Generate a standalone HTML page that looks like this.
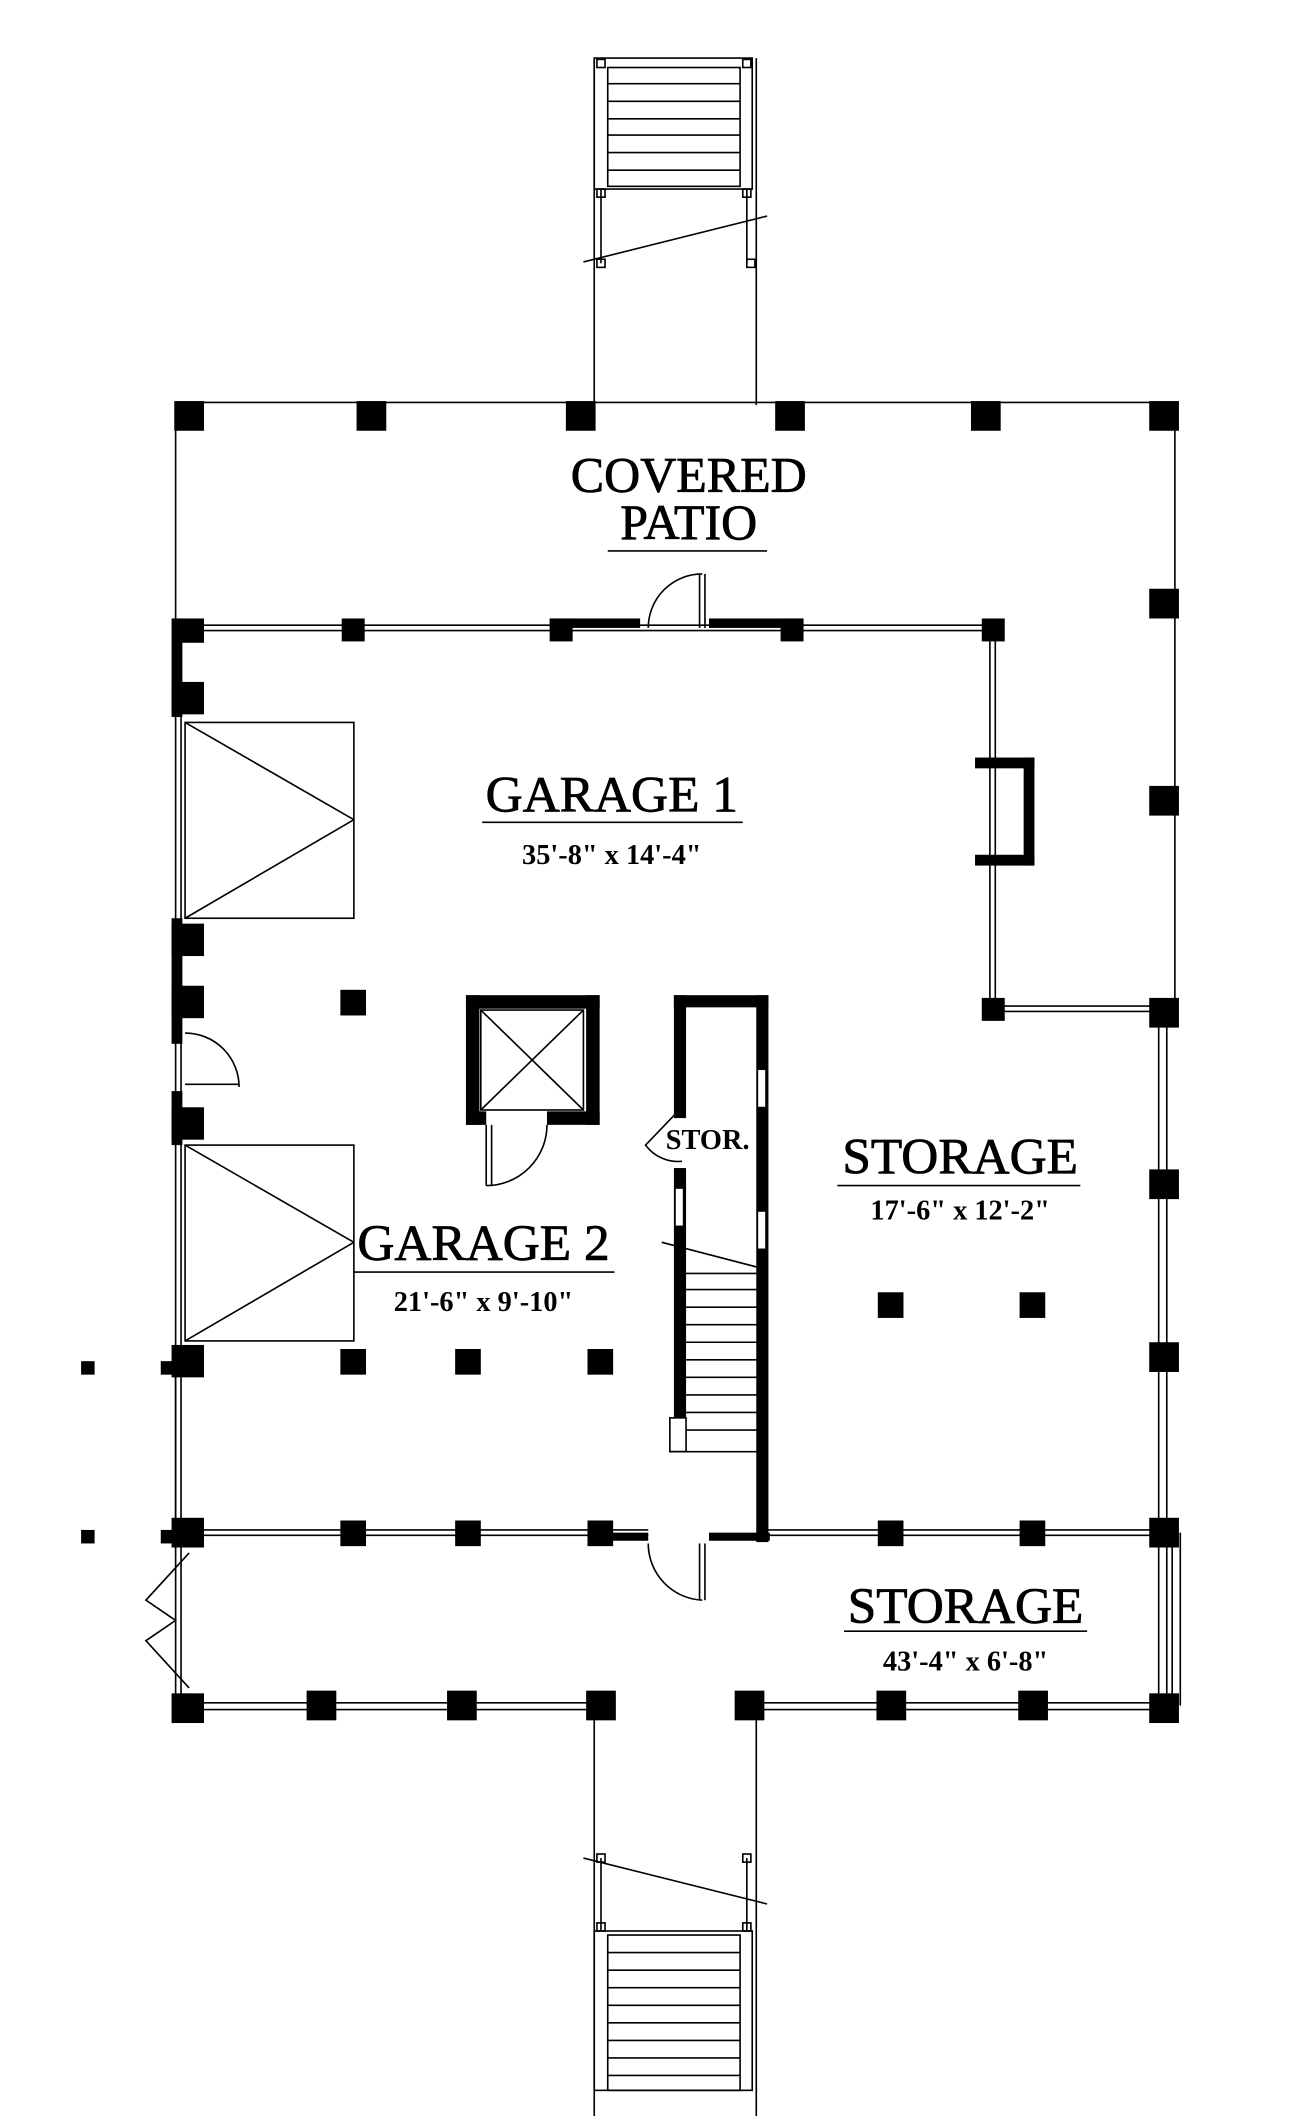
<!DOCTYPE html>
<html><head><meta charset="utf-8"><style>
html,body{margin:0;padding:0;background:#fff}
svg{display:block}
text{font-family:"Liberation Serif",serif;fill:#000;text-anchor:middle}
</style></head><body>
<svg width="1310" height="2116" viewBox="0 0 970 1567" xmlns="http://www.w3.org/2000/svg">
<rect width="970" height="1567" fill="#fff"/>
<g stroke="#000" fill="none" stroke-width="1.2">
<line x1="440" y1="43" x2="440" y2="300"/><line x1="560" y1="43" x2="560" y2="300"/>
<rect x="440" y="43" width="117" height="97"/>
<rect x="450" y="50" width="98" height="88"/>
<line x1="450" y1="62" x2="548" y2="62"/><line x1="450" y1="75" x2="548" y2="75"/><line x1="450" y1="88" x2="548" y2="88"/><line x1="450" y1="100" x2="548" y2="100"/><line x1="450" y1="113" x2="548" y2="113"/><line x1="450" y1="126" x2="548" y2="126"/>
<line x1="445" y1="140" x2="445" y2="195"/><line x1="553" y1="140" x2="553" y2="195"/>
<line x1="432" y1="194" x2="568" y2="160"/>
<rect x="442" y="44" width="6" height="6"/><rect x="550" y="44" width="6" height="6"/><rect x="442" y="140" width="6" height="6"/><rect x="550" y="140" width="6" height="6"/><rect x="442" y="192" width="6" height="6"/><rect x="553" y="192" width="6" height="6"/>
<line x1="440" y1="1263" x2="440" y2="1567"/><line x1="560" y1="1263" x2="560" y2="1567"/>
<line x1="432" y1="1376" x2="568" y2="1410"/>
<line x1="445" y1="1376" x2="445" y2="1430"/><line x1="553" y1="1376" x2="553" y2="1430"/>
<rect x="442" y="1373" width="6" height="6"/><rect x="550" y="1373" width="6" height="6"/><rect x="442" y="1424" width="6" height="6"/><rect x="550" y="1424" width="6" height="6"/>
<rect x="440" y="1430" width="117" height="118"/>
<rect x="450" y="1433" width="98" height="115"/>
<line x1="450" y1="1446" x2="548" y2="1446"/><line x1="450" y1="1459" x2="548" y2="1459"/><line x1="450" y1="1472" x2="548" y2="1472"/><line x1="450" y1="1485" x2="548" y2="1485"/><line x1="450" y1="1498" x2="548" y2="1498"/><line x1="450" y1="1511" x2="548" y2="1511"/><line x1="450" y1="1524" x2="548" y2="1524"/><line x1="450" y1="1537" x2="548" y2="1537"/>
<line x1="130" y1="298" x2="872" y2="298"/><line x1="130" y1="298" x2="130" y2="465"/><line x1="870" y1="298" x2="870" y2="750"/>
<line x1="140" y1="463" x2="735" y2="463"/><line x1="140" y1="467" x2="735" y2="467"/>
<line x1="733" y1="467" x2="733" y2="747"/><line x1="737" y1="467" x2="737" y2="747"/>
<line x1="735" y1="745" x2="862" y2="745"/><line x1="735" y1="749" x2="862" y2="749"/>
<line x1="858" y1="750" x2="858" y2="1263"/><line x1="864" y1="750" x2="864" y2="1263"/>
<line x1="868" y1="1135" x2="868" y2="1263"/><line x1="874" y1="1135" x2="874" y2="1263"/>
<line x1="130" y1="530" x2="130" y2="1263"/><line x1="134" y1="530" x2="134" y2="1263"/>
<rect x="137" y="535" width="125" height="145"/><line x1="137" y1="535" x2="262" y2="607"/><line x1="137" y1="680" x2="262" y2="607"/>
<rect x="137" y="848" width="125" height="145"/><line x1="137" y1="848" x2="262" y2="920"/><line x1="137" y1="993" x2="262" y2="920"/>
<line x1="140" y1="1133" x2="480" y2="1133"/><line x1="140" y1="1137" x2="480" y2="1137"/>
<line x1="565" y1="1133" x2="862" y2="1133"/><line x1="565" y1="1137" x2="862" y2="1137"/>
<line x1="140" y1="1261" x2="445" y2="1261"/><line x1="140" y1="1266" x2="445" y2="1266"/>
<line x1="555" y1="1261" x2="862" y2="1261"/><line x1="555" y1="1266" x2="862" y2="1266"/>
<path d="M520 425 A40 40 0 0 0 480 465"/><line x1="518" y1="425" x2="518" y2="465"/><line x1="522" y1="425" x2="522" y2="465"/>
<path d="M137 765 A40 40 0 0 1 177 805"/><line x1="137" y1="803" x2="177" y2="803"/>
<path d="M405 833 A45 45 0 0 1 360 878"/><line x1="360" y1="833" x2="360" y2="878"/><line x1="364" y1="833" x2="364" y2="878"/>
<path d="M520 1185 A42 42 0 0 1 480 1143"/><line x1="518" y1="1143" x2="518" y2="1185"/><line x1="522" y1="1143" x2="522" y2="1185"/>
<path d="M505 860 A30 30 0 0 1 478 848 L503 822"/>
<polyline points="140,1150 108,1185 130,1200 108,1215 140,1250"/>
<line x1="130" y1="1012" x2="130" y2="1135"/>
<line x1="490" y1="920" x2="567" y2="940"/>
<line x1="508" y1="943" x2="562" y2="943"/>
<line x1="508" y1="955" x2="562" y2="955"/><line x1="508" y1="968" x2="562" y2="968"/><line x1="508" y1="981" x2="562" y2="981"/><line x1="508" y1="994" x2="562" y2="994"/><line x1="508" y1="1007" x2="562" y2="1007"/><line x1="508" y1="1020" x2="562" y2="1020"/><line x1="508" y1="1033" x2="562" y2="1033"/><line x1="508" y1="1046" x2="562" y2="1046"/><line x1="508" y1="1059" x2="562" y2="1059"/>
<rect x="496" y="1050" width="12" height="25"/>
<line x1="496" y1="1075" x2="562" y2="1075"/>
<rect x="356" y="748" width="76" height="74"/><line x1="356" y1="748" x2="432" y2="822"/><line x1="432" y1="748" x2="356" y2="822"/>
<line x1="450" y1="408" x2="568" y2="408"/>
<line x1="357" y1="609" x2="550" y2="609"/>
<line x1="262" y1="942" x2="455" y2="942"/>
<line x1="620" y1="878" x2="800" y2="878"/>
<line x1="625" y1="1208" x2="805" y2="1208"/>
</g>
<g fill="#000">
<rect x="129" y="297" width="22" height="22"/><rect x="264" y="297" width="22" height="22"/><rect x="419" y="297" width="22" height="22"/><rect x="574" y="297" width="22" height="22"/><rect x="719" y="297" width="22" height="22"/><rect x="851" y="297" width="22" height="22"/>
<rect x="851" y="436" width="22" height="22"/><rect x="851" y="582" width="22" height="22"/><rect x="851" y="739" width="22" height="22"/>
<rect x="851" y="866" width="22" height="22"/><rect x="851" y="994" width="22" height="22"/><rect x="851" y="1124" width="22" height="22"/><rect x="851" y="1254" width="22" height="22"/>
<rect x="129" y="458" width="22" height="18"/><rect x="253" y="458" width="17" height="17"/>
<rect x="407" y="458" width="17" height="17"/><rect x="407" y="458" width="67" height="7"/>
<rect x="525" y="458" width="70" height="7"/><rect x="578" y="458" width="17" height="17"/>
<rect x="727" y="458" width="17" height="17"/><rect x="727" y="739" width="17" height="17"/>
<rect x="722" y="561" width="44" height="8"/><rect x="758" y="561" width="8" height="80"/><rect x="722" y="633" width="44" height="8"/>
<rect x="127" y="458" width="8" height="73"/><rect x="127" y="505" width="24" height="24"/>
<rect x="127" y="680" width="8" height="93"/><rect x="127" y="684" width="24" height="24"/><rect x="127" y="730" width="24" height="24"/>
<rect x="127" y="808" width="8" height="40"/><rect x="127" y="820" width="24" height="24"/>
<rect x="127" y="996" width="24" height="24"/><rect x="119" y="1008" width="10" height="10"/>
<rect x="127" y="1124" width="24" height="22"/><rect x="119" y="1133" width="10" height="10"/>
<rect x="127" y="1254" width="24" height="22"/>
<rect x="60" y="1008" width="10" height="10"/><rect x="60" y="1133" width="10" height="10"/>
<rect x="252" y="733" width="19" height="19"/>
<rect x="252" y="999" width="19" height="19"/><rect x="337" y="999" width="19" height="19"/><rect x="435" y="999" width="19" height="19"/>
<rect x="650" y="957" width="19" height="19"/><rect x="755" y="957" width="19" height="19"/>
<rect x="252" y="1126" width="19" height="19"/><rect x="337" y="1126" width="19" height="19"/><rect x="435" y="1126" width="19" height="19"/><rect x="435" y="1135" width="45" height="6"/>
<rect x="525" y="1135" width="45" height="6"/>
<rect x="650" y="1126" width="19" height="19"/><rect x="755" y="1126" width="19" height="19"/>
<rect x="227" y="1252" width="22" height="22"/><rect x="331" y="1252" width="22" height="22"/><rect x="434" y="1252" width="22" height="22"/><rect x="544" y="1252" width="22" height="22"/><rect x="649" y="1252" width="22" height="22"/><rect x="754" y="1252" width="22" height="22"/>
<rect x="345" y="737" width="99" height="10"/><rect x="345" y="737" width="10" height="96"/><rect x="434" y="737" width="10" height="96"/><rect x="345" y="823" width="15" height="10"/><rect x="405" y="823" width="39" height="10"/>
<rect x="499" y="737" width="70" height="9"/><rect x="499" y="737" width="9" height="91"/><rect x="499" y="865" width="9" height="185"/><rect x="560" y="737" width="9" height="405"/>
</g>
<g fill="#fff" stroke="#000" stroke-width="0.8">
<rect x="561" y="792" width="6" height="28"/><rect x="561" y="897" width="6" height="28"/><rect x="500" y="880" width="6" height="28"/>
</g>
<g stroke="#000" stroke-width="0.6">
<text x="510" y="364" font-size="37">COVERED</text>
<text x="510" y="399" font-size="37">PATIO</text>
<text x="453" y="601" font-size="38">GARAGE 1</text>
<text x="358" y="933" font-size="38">GARAGE 2</text>
<text x="711" y="869" font-size="38">STORAGE</text>
<text x="715" y="1202" font-size="38">STORAGE</text>
</g>
<text x="453" y="640" font-size="21" font-weight="bold">35'-8" x 14'-4"</text>
<text x="358" y="971" font-size="21" font-weight="bold">21'-6" x 9'-10"</text>
<text x="711" y="903" font-size="21" font-weight="bold">17'-6" x 12'-2"</text>
<text x="715" y="1237" font-size="21" font-weight="bold">43'-4" x 6'-8"</text>
<text x="524" y="851" font-size="21" font-weight="bold">STOR.</text>
</svg>
</body></html>
